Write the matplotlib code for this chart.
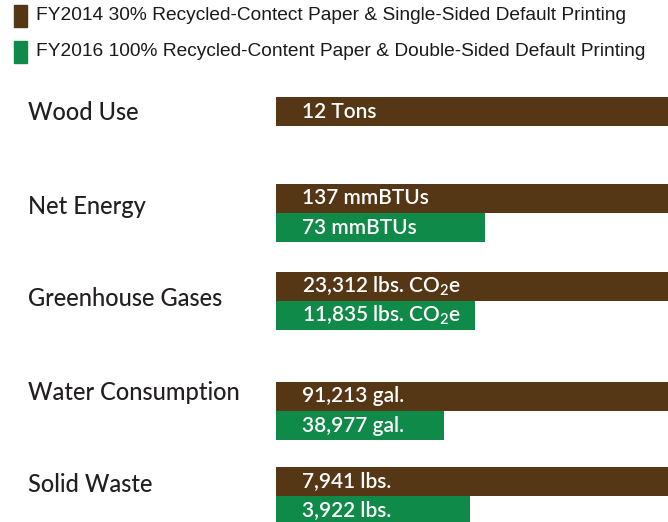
import matplotlib
matplotlib.use('Agg')
import matplotlib.pyplot as plt
from matplotlib.patches import Rectangle

plt.rcParams['mathtext.fontset'] = 'custom'
plt.rcParams['mathtext.rm'] = 'Lato:semibold'

categories = ['Wood Use', 'Net Energy', 'Greenhouse Gases', 'Water Consumption', 'Solid Waste']
fy2014 = [12, 137, 23312, 91213, 7941]
fy2016 = [None, 73, 11835, 38977, 3922]
fy2014_labels = ['12 Tons', '137 mmBTUs', '23,312 lbs. CO$_2$e', '91,213 gal.', '7,941 lbs.']
fy2016_labels = ['', '73 mmBTUs', '11,835 lbs. CO$_2$e', '38,977 gal.', '3,922 lbs.']
legend_labels = ['FY2014 30% Recycled-Contect Paper & Single-Sided Default Printing',
                 'FY2016 100% Recycled-Content Paper & Double-Sided Default Printing']

brown = '#553716'
green = '#108a48'

# layout (pixels from top)
W, H = 668, 522
group_top = [97, 184, 272, 382, 467]
label_y = [112, 207, 298, 392, 485]
bar_h = 29

fig = plt.figure(figsize=(W / 100, H / 100), dpi=100)
ax = fig.add_axes([276 / W, 0, 1 - 276 / W, 1])
ax.set_xlim(0, 1)
ax.set_ylim(H, 0)
ax.axis('off')

for i, cat in enumerate(categories):
    y1 = group_top[i] + bar_h / 2
    ax.barh(y1, fy2014[i] / fy2014[i], height=bar_h, left=0, color=brown)
    ax.annotate(fy2014_labels[i], (0, y1), xytext=(18.5, 0), textcoords='offset points',
                color='white', fontsize=15, family='Lato', weight='semibold', va='center')
    if fy2016[i] is not None:
        y2 = y1 + bar_h
        ax.barh(y2, fy2016[i] / fy2014[i], height=bar_h, left=0, color=green)
        ax.annotate(fy2016_labels[i], (0, y2), xytext=(18.5, 0), textcoords='offset points',
                    color='white', fontsize=15, family='Lato', weight='semibold', va='center')
    fig.text(28 / W, 1 - label_y[i] / H, cat, fontsize=17, family='Lato', weight='medium',
             color='#231f20', va='center')

# legend
for j, (lab, col) in enumerate(zip(legend_labels, [brown, green])):
    yc = [16, 52][j]
    fig.add_artist(Rectangle((14 / W, 1 - (yc + 11) / H), 13 / W, 22 / H,
                             transform=fig.transFigure, color=col))
    fig.text(36 / W, 1 - yc / H, lab, fontsize=13.8, family='Liberation Sans',
             color='#1a1a1a', va='center')

fig.savefig('out.png', dpi=100)
